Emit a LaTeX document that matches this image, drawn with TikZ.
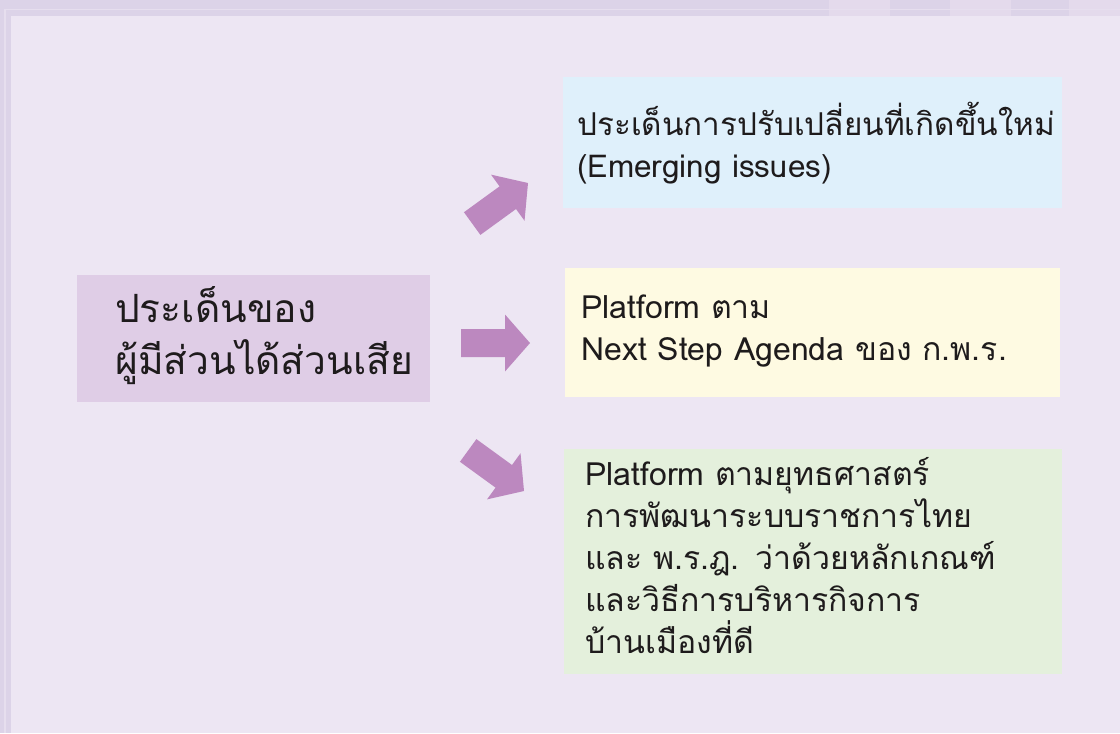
\documentclass[tikz,border=0pt]{standalone}
\usepackage{fontspec}
\setmainfont{Loma}[Script=Thai]

\definecolor{frameout}{HTML}{DCD3E8}
\definecolor{framelight}{HTML}{E6DEEE}
\definecolor{framebox}{HTML}{E4DAEC}
\definecolor{bgfill}{HTML}{EDE6F3}
\definecolor{lilac}{HTML}{DFCDE6}
\definecolor{skyblue}{HTML}{DFF0FB}
\definecolor{cream}{HTML}{FEFAE2}
\definecolor{mint}{HTML}{E4F0DC}
\definecolor{arrowpink}{HTML}{BC88BF}
\definecolor{inkgray}{HTML}{1E1B1C}

\tikzset{
  topicbox/.style={rectangle, inner sep=0pt, anchor=north west},
  topictext/.style={anchor=base west, inner sep=0pt, text=inkgray, align=left,
    text width=500pt, font=\fontsize{24}{31.5}\selectfont}
}

\begin{document}
\begin{tikzpicture}[x=0.75pt,y=-0.75pt]
  % page frame
  \fill[frameout] (0,0) rectangle (1120,733);
  \foreach \xa/\xb in {829/890, 950/1011, 1069/1120}
    \fill[framebox] (\xa,0) rectangle (\xb,16);
  \fill[framelight] (4,9) rectangle (1120,10);
  \fill[framelight] (4,9) rectangle (6,733);
  \fill[bgfill] (11,16) rectangle (1120,733);
  \useasboundingbox (0,0) rectangle (1120,733);

  % boxes
  \node[topicbox, fill=lilac, minimum width=264.75pt, minimum height=95.25pt]
    (stakeholder) at (77,275) {};
  \node[topicbox, fill=skyblue, minimum width=374.25pt, minimum height=98.25pt]
    (emerging) at (563,77) {};
  \node[topicbox, fill=cream, minimum width=371.25pt, minimum height=96.75pt]
    (nextstep) at (565,268) {};
  \node[topicbox, fill=mint, minimum width=373.5pt, minimum height=168.75pt]
    (strategy) at (564,449) {};

  % texts
  \node[topictext, font=\fontsize{29.2}{39}\selectfont]
    (stakeholderTxt) at ([shift={(38,47)}]stakeholder.north west)
    {ประเด็นของ\\ผู้มีส่วนได้ส่วนเสีย};
  \node[topictext, font=\fontsize{23.6}{31.5}\selectfont]
    (emergingTxt) at ([shift={(14,58)}]emerging.north west)
    {ประเด็นการปรับเปลี่ยนที่เกิดขึ้นใหม่\\(Emerging issues)};
  \node[topictext] (nextstepTxt) at ([shift={(16,50)}]nextstep.north west)
    {Platform ตาม\\Next Step Agenda ของ ก.พ.ร.};
  \node[topictext] (strategyTxt) at ([shift={(21,36)}]strategy.north west)
    {Platform ตามยุทธศาสตร์\\การพัฒนาระบบราชการไทย\\และ พ.ร.ฎ. ว่าด้วยหลักเกณฑ์\\และวิธีการบริหารกิจการ\\บ้านเมืองที่ดี};

  % block arrows: tip position / angle
  \foreach \tip/\ang in {{(528,183)}/36, {(530,343)}/0, {(524,491)}/-36}
    \fill[arrowpink, shift=\tip, rotate=\ang]
      (-69,-14) -- (-25,-14) -- (-25,-28.5) -- (0,0) -- (-25,28.5)
      -- (-25,14) -- (-69,14) -- cycle;
\end{tikzpicture}
\end{document}
